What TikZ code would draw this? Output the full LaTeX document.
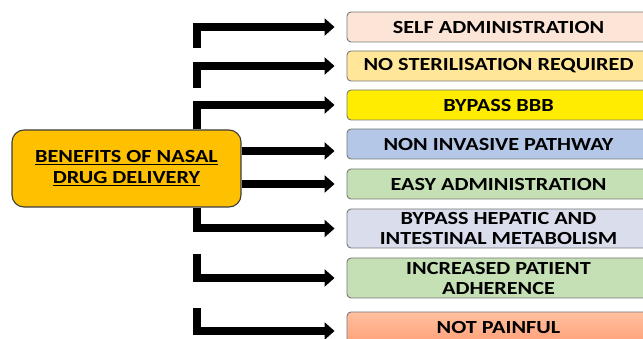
\documentclass[tikz,border=0pt]{standalone}
\usepackage{fontspec}
\setmainfont{Carlito}[FakeStretch=1.2]
\usetikzlibrary{arrows.meta,calc}
\definecolor{boxgray}{RGB}{120,120,120}
\definecolor{mainfill}{RGB}{255,192,0}
\definecolor{mainborder}{RGB}{60,60,60}
\definecolor{cpeach}{RGB}{252,228,214}
\definecolor{cltyellow}{RGB}{255,230,153}
\definecolor{cyellow}{RGB}{255,236,0}
\definecolor{cblue}{RGB}{180,199,231}
\definecolor{cgreen}{RGB}{197,224,180}
\definecolor{cgrayblue}{RGB}{218,222,236}
\definecolor{csalmontop}{RGB}{255,192,160}
\definecolor{csalmonbot}{RGB}{255,160,120}
\begin{document}
\begin{tikzpicture}[x=1pt,y=-1pt,
  txt/.style={font=\bfseries\fontsize{18.5}{20}\selectfont, align=center},
  rbox/.style={txt, draw=boxgray, line width=0.9pt, rounded corners=4pt,
    minimum width=303pt, minimum height=30pt, inner sep=0pt},
  mainbox/.style={txt, font=\bfseries\fontsize{18.5}{21}\selectfont,
    draw=mainborder, line width=1.1pt, fill=mainfill, rounded corners=12pt,
    minimum width=229pt, minimum height=77pt, inner sep=0pt},
  conn/.style={line width=8pt, line join=miter,
    -{Triangle[length=10pt,width=17pt]}, shorten >=12pt}
]
\useasboundingbox (0,0) rectangle (643,339);
\fill[white] (0,0) rectangle (643,339);
\clip (0,0) rectangle (643,339);

\node[mainbox] (m) at (126.5,168.5) {\underline{BENEFITS OF NASAL}\\\underline{DRUG DELIVERY}};

\node[rbox, fill=cpeach] (b1) at (498.5,27) {SELF ADMINISTRATION};
\node[rbox, fill=cltyellow] (b2) at (498.5,66) {NO STERILISATION REQUIRED};
\node[rbox, fill=cyellow] (b3) at (498.5,105) {BYPASS BBB};
\node[rbox, fill=cblue] (b4) at (498.5,144) {NON INVASIVE PATHWAY};
\node[rbox, fill=cgreen] (b5) at (498.5,184) {EASY ADMINISTRATION};
\node[rbox, fill=cgrayblue, minimum height=39pt] (b6) at (498.5,228.5) {BYPASS HEPATIC AND\\INTESTINAL METABOLISM};
\node[rbox, fill=cgreen, minimum height=40pt] (b7) at (498.5,278) {INCREASED PATIENT\\ADHERENCE};
\node[rbox, top color=csalmontop, bottom color=csalmonbot, minimum height=32pt] (b8) at (498.5,328) {NOT PAINFUL};

\coordinate (vx) at (196.5,0);
\coordinate (s1) at (196.5,48);
\coordinate (s2) at (196.5,88);
\coordinate (s7) at (196.5,254);
\coordinate (s8) at (196.5,308);
\coordinate (y4) at (0,151);
\coordinate (y8) at (0,331);

\draw[conn] (s1) |- (b1.west);
\draw[conn] (s2) |- (b2.west);
\draw[conn] (m.north -| vx) |- (b3.west);
\draw[conn] (m.east |- y4) -- (b4.west |- y4);
\draw[conn] (m.east |- b5.west) -- (b5.west);
\draw[conn] (m.south -| vx) |- (b6.west);
\draw[conn] (s7) |- (b7.west);
\draw[conn] (s8) |- (b8.west |- y8);
\end{tikzpicture}
\end{document}
